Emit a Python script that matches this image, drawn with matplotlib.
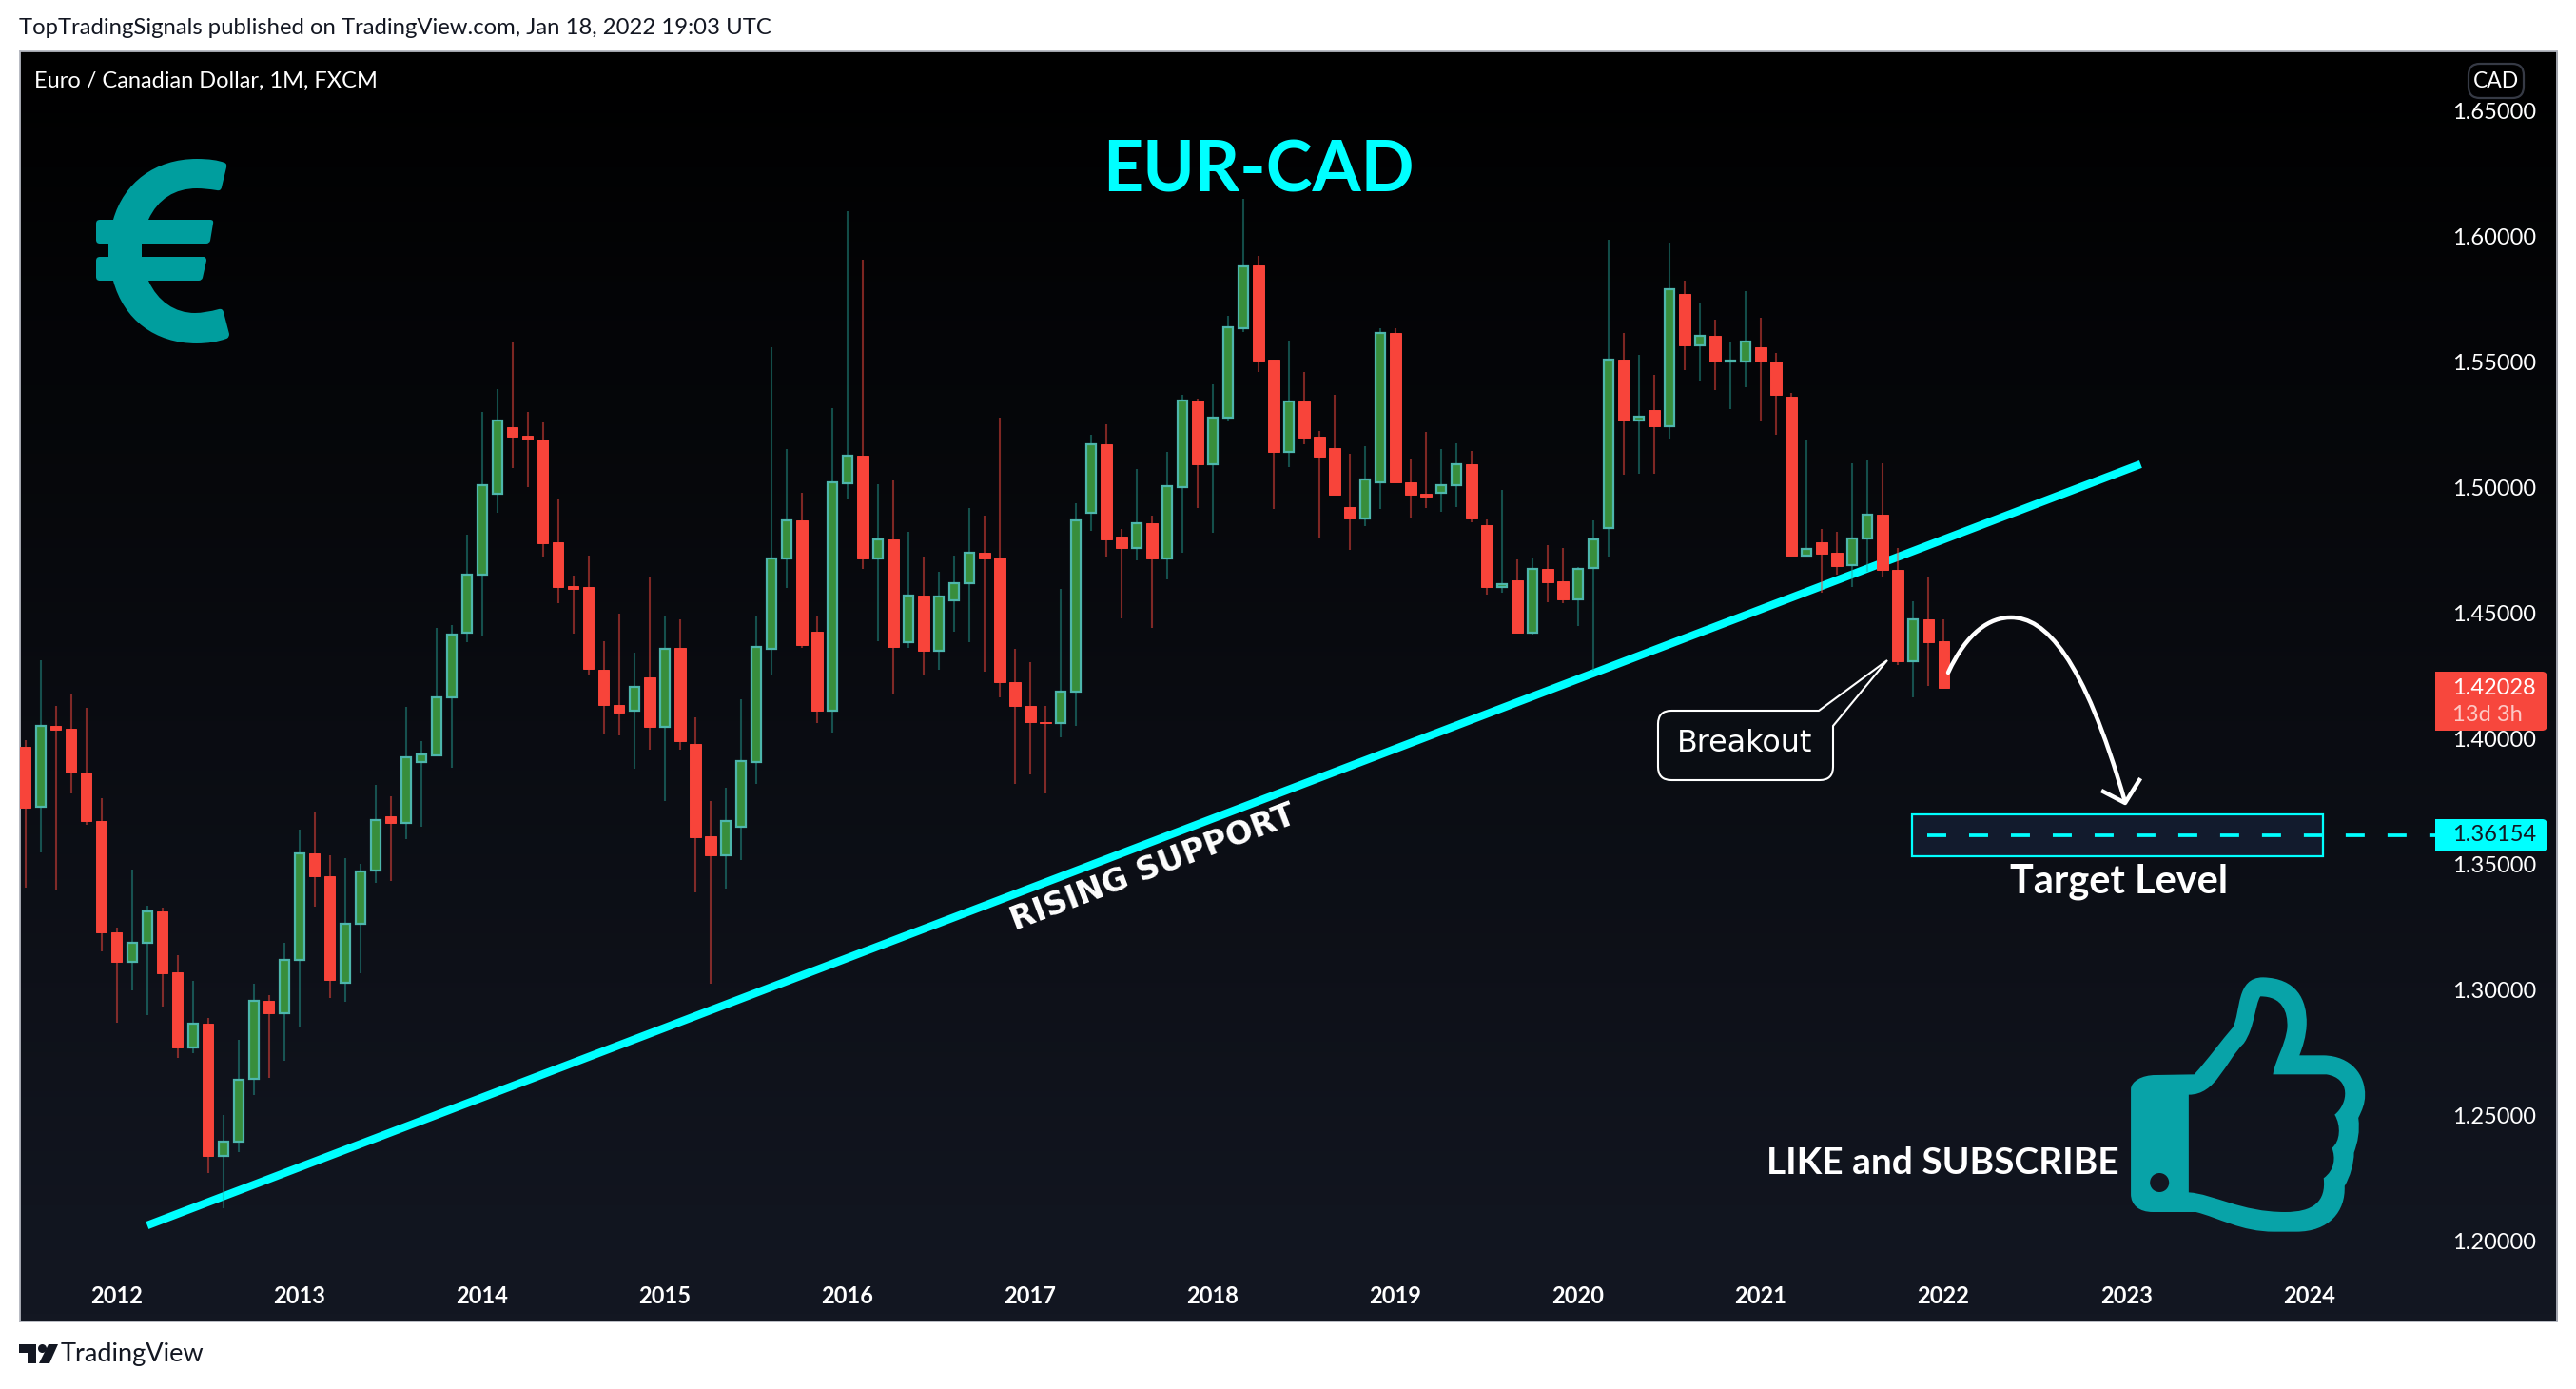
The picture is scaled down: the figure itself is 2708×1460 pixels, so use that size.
import numpy as np
import matplotlib
matplotlib.use("Agg")
import matplotlib.pyplot as plt
from matplotlib.path import Path
from matplotlib.patches import PathPatch, Ellipse, Circle, Rectangle

# ---------- data (EUR/CAD monthly candles, Jul 2011 .. Jan 2022) ----------
opens = [
1.3968,1.3728,1.4053,1.4038,1.3864,1.3671,1.3231,1.3113,1.3186,1.3311,
1.3069,1.2769,1.2864,1.2340,1.2394,1.2644,1.2956,1.2908,1.3118,1.3542,
1.3454,1.3030,1.3262,1.3476,1.3693,1.3666,1.3908,1.3935,1.4166,1.4424,
1.4652,1.4974,1.5239,1.5206,1.5193,1.4781,1.4607,1.4603,1.4273,1.4136,
1.4110,1.4244,1.4049,1.4362,1.3980,1.3612,1.3536,1.3650,1.3909,1.4357,
1.4716,1.4871,1.4428,1.4110,1.5018,1.5125,1.4716,1.4792,1.4383,1.4569,
1.4349,1.4550,1.4618,1.4739,1.4721,1.4224,1.4129,1.4066,1.4063,1.4186,
1.4900,1.5174,1.4804,1.4761,1.4859,1.4717,1.5003,1.5345,1.5091,1.5280,
1.5636,1.5886,1.5509,1.5143,1.5342,1.5201,1.5156,1.4924,1.4878,1.5019,
1.5614,1.5019,1.4975,1.4981,1.5011,1.5091,1.4849,1.4605,1.4629,1.4424,
1.4678,1.4626,1.4556,1.4681,1.4840,1.5509,1.5268,1.5307,1.5246,1.5770,
1.5568,1.5603,1.5501,1.5503,1.5558,1.5500,1.5361,1.4730,1.4781,1.4739,
1.4690,1.4796,1.4891,1.4671,1.4307,1.4477,1.4388]
highs = [
1.3994,1.4313,1.4131,1.4175,1.4122,1.3762,1.3250,1.3478,1.3334,1.3329,
1.3137,1.3035,1.2890,1.2501,1.2800,1.3023,1.2978,1.3186,1.3640,1.3708,
1.3537,1.3524,1.3503,1.3815,1.3769,1.4126,1.3992,1.4440,1.4451,1.4814,
1.5303,1.5392,1.5583,1.5303,1.5258,1.4951,1.4648,1.4731,1.4389,1.4497,
1.4344,1.4641,1.4489,1.4474,1.4087,1.3752,1.3804,1.4159,1.4492,1.5558,
1.5155,1.4981,1.4486,1.5318,1.6102,1.5909,1.5012,1.5027,1.4822,1.4724,
1.4663,1.4731,1.4920,1.4890,1.5277,1.4357,1.4306,1.4129,1.4596,1.4937,
1.5209,1.5253,1.4834,1.5072,1.4890,1.5143,1.5368,1.5353,1.5412,1.5683,
1.6148,1.5921,1.5509,1.5584,1.5462,1.5227,1.5368,1.5133,1.5166,1.5636,
1.5633,1.5117,1.5220,1.5152,1.5178,1.5145,1.4875,1.4992,1.4713,1.4716,
1.4769,1.4758,1.4682,1.4868,1.5988,1.5614,1.5530,1.5448,1.5974,1.5822,
1.5735,1.5668,1.5580,1.5781,1.5678,1.5535,1.5375,1.5190,1.4837,1.4823,
1.5097,1.5110,1.5097,1.4758,1.4547,1.4646,1.4477]
lows = [
1.3407,1.3549,1.3397,1.3784,1.3659,1.3155,1.2871,1.3000,1.2898,1.2932,
1.2731,1.2749,1.2272,1.2132,1.2354,1.2580,1.2651,1.2719,1.2849,1.3333,
1.2969,1.2954,1.3067,1.3427,1.3432,1.3602,1.3651,1.3935,1.3886,1.4385,
1.4410,1.4901,1.5079,1.5003,1.4727,1.4541,1.4420,1.4253,1.4016,1.4012,
1.3882,1.3958,1.3753,1.3955,1.3389,1.3025,1.3403,1.3517,1.3821,1.4251,
1.4599,1.4362,1.4061,1.4026,1.4954,1.4678,1.4389,1.4181,1.4362,1.4251,
1.4276,1.4428,1.4383,1.4266,1.4166,1.3821,1.3857,1.3784,1.4007,1.4053,
1.4826,1.4724,1.4481,1.4709,1.4442,1.4636,1.4739,1.4920,1.4819,1.5262,
1.5620,1.5461,1.4914,1.5082,1.5174,1.4798,1.4972,1.4753,1.4847,1.4913,
1.5017,1.4878,1.4920,1.4904,1.4923,1.4863,1.4575,1.4581,1.4420,1.4415,
1.4543,1.4540,1.4449,1.4270,1.4726,1.5052,1.5055,1.5055,1.5195,1.5468,
1.5426,1.5388,1.5313,1.5400,1.5266,1.5210,1.4727,1.4727,1.4582,1.4655,
1.4605,1.4663,1.4647,1.4295,1.4166,1.4212,1.4198]
closes = [
1.3727,1.4053,1.4036,1.3864,1.3671,1.3231,1.3113,1.3186,1.3311,1.3067,
1.2769,1.2864,1.2340,1.2394,1.2643,1.2956,1.2908,1.3118,1.3542,1.3454,
1.3038,1.3262,1.3470,1.3678,1.3666,1.3925,1.3936,1.4166,1.4416,1.4652,
1.5011,1.5268,1.5204,1.5191,1.4777,1.4603,1.4597,1.4280,1.4136,1.4103,
1.4208,1.4049,1.4357,1.3992,1.3608,1.3536,1.3672,1.3911,1.4367,1.4716,
1.4871,1.4374,1.4110,1.5020,1.5125,1.4716,1.4792,1.4364,1.4569,1.4349,
1.4565,1.4618,1.4739,1.4719,1.4224,1.4129,1.4065,1.4061,1.4188,1.4871,
1.5174,1.4795,1.4761,1.4859,1.4719,1.5005,1.5345,1.5091,1.5280,1.5637,
1.5882,1.5507,1.5143,1.5342,1.5200,1.5124,1.4972,1.4878,1.5034,1.5614,
1.5019,1.4972,1.4965,1.5011,1.5091,1.4878,1.4605,1.4617,1.4424,1.4678,
1.4624,1.4556,1.4678,1.4792,1.5509,1.5268,1.5284,1.5246,1.5788,1.5568,
1.5603,1.5500,1.5507,1.5580,1.5500,1.5371,1.4730,1.4755,1.4737,1.4688,
1.4796,1.4891,1.4671,1.4307,1.4477,1.4386,1.42028]

price_ticks = [1.20, 1.25, 1.30, 1.35, 1.40, 1.45, 1.50, 1.55, 1.60, 1.65]
year_tick_pos = [6, 18, 30, 42, 54, 66, 78, 90, 102, 114, 126, 138, 150]
year_labels = ["2012","2013","2014","2015","2016","2017","2018","2019","2020","2021","2022","2023","2024"]
support_x = [8.0, 138.95]
support_y = [1.20625, 1.5093]
target_price = 1.36154
last_price = 1.42028

W, H = 2708, 1460
FONT = "Lato"
CYAN = "#00FFFF"
TEAL = "#009E9E"

fig = plt.figure(figsize=(W/100, H/100), dpi=100, facecolor="white")
L, R, T, B = 20.5, 2688, 54, 1389
ax = fig.add_axes([L/W, 1-B/H, (R-L)/W, (B-T)/H])

# background gradient
grad = np.linspace(0, 1, 256).reshape(-1, 1)
cm = matplotlib.colors.LinearSegmentedColormap.from_list("bg", ["#000000", "#131722"])
ax.imshow(grad, extent=(0, 1, 0, 1), transform=ax.transAxes, origin="upper",
          cmap=cm, aspect="auto", zorder=0, interpolation="bilinear")
ax.set_xlim(-0.394, 166.3)
ax.set_ylim(1.168, 1.67367)

for s in ax.spines.values():
    s.set_color("#b2b5be")
    s.set_linewidth(1.3)

ax.yaxis.tick_right()
ax.set_yticks(price_ticks)
ax.set_yticklabels([f"{p:.5f}" for p in price_ticks])
ax.set_xticks(year_tick_pos)
ax.set_xticklabels(year_labels)
ax.tick_params(axis="y", length=0, pad=-79, labelcolor="white", labelsize=17)
ax.tick_params(axis="x", length=0, pad=-27, labelcolor="white", labelsize=17)
for t in ax.get_xticklabels() + ax.get_yticklabels():
    t.set_fontfamily(FONT)
for t in ax.get_xticklabels():
    t.set_fontweight("bold")

# support line
x = np.arange(len(opens))
ax.plot(support_x, support_y, color=CYAN, lw=6.0, solid_capstyle="butt", zorder=2)

# candles
o, h, l, c = map(np.array, (opens, highs, lows, closes))
up = c >= o
ax.vlines(x[up], l[up], h[up], colors="#26A69A", alpha=0.45, lw=1.5, zorder=3)
ax.vlines(x[~up], l[~up], h[~up], colors="#F7473D", alpha=0.5, lw=1.5, zorder=3)
ax.bar(x[up], (c-o)[up], bottom=o[up], width=0.615, facecolor="#388E3C",
       edgecolor="#4DB6AC", linewidth=1.6, zorder=4)
ax.bar(x[~up], (c-o)[~up], bottom=o[~up], width=0.70, facecolor="#F8443A",
       edgecolor="#F8443A", linewidth=0.7, zorder=4)

# ---------- overlay in pixel coordinates for drawing tools ----------
ov = fig.add_axes([0, 0, 1, 1], zorder=5)
ov.set_xlim(0, W)
ov.set_ylim(H, 0)
ov.axis("off")

def txt(xp, yp, s, size, color="white", weight="normal", ha="center", va="center", family=FONT, **kw):
    return ov.text(xp, yp, s, fontsize=size, color=color, fontweight=weight, ha=ha, va=va, family=family, **kw)

def build(cmds):
    verts, codes = [], []
    for cmd in cmds:
        if cmd[0] == "M":
            verts.append(cmd[1]); codes.append(Path.MOVETO)
        elif cmd[0] == "L":
            verts.append(cmd[1]); codes.append(Path.LINETO)
        elif cmd[0] == "Q":
            verts += [cmd[1], cmd[2]]; codes += [Path.CURVE3, Path.CURVE3]
        elif cmd[0] == "C":
            verts += [cmd[1], cmd[2], cmd[3]]; codes += [Path.CURVE4]*3
        elif cmd[0] == "Z":
            verts.append((0, 0)); codes.append(Path.CLOSEPOLY)
    return verts, codes

def tag(x0, y0, x1, y1, color, r=5):
    v, cd = build([("M",(x0,y0)),("L",(x1-r,y0)),("Q",(x1,y0),(x1,y0+r)),("L",(x1,y1-r)),
                   ("Q",(x1,y1),(x1-r,y1)),("L",(x0,y1)),("Z",)])
    ov.add_patch(PathPatch(Path(v, cd), facecolor=color, edgecolor="none", zorder=6))

# header / footer
txt(20, 30, "TopTradingSignals published on TradingView.com, Jan 18, 2022 19:03 UTC", 17.2,
    color="#131722", ha="left")
txt(36, 85, "Euro / Canadian Dollar, 1M, FXCM", 17.0, ha="left")
txt(1323, 180, "EUR-CAD", 53, color=CYAN, weight="bold")

# CAD box
v, cd = build([("M",(2607,67)),("L",(2641,67)),("Q",(2653,67),(2653,79)),("L",(2653,91)),("Q",(2653,103),(2641,103)),
               ("L",(2607,103)),("Q",(2595,103),(2595,91)),("L",(2595,79)),("Q",(2595,67),(2607,67)),("Z",)])
ov.add_patch(PathPatch(Path(v, cd), facecolor="none", edgecolor="#363a45", lw=1.6, zorder=6))
txt(2624, 85, "CAD", 16.5)

# euro icon
v, cd = build([
    ("M",(207,167)),("Q",(226,167),(236,171)),("Q",(239,172),(238,176)),("L",(233,197)),("Q",(232,201),(228,200)),
    ("Q",(216,198),(207,198)),("C",(184,198),(166,209),(156,231)),
    ("L",(221,231)),("Q",(225,231),(224,235)),("L",(221,253)),("Q",(220,256),(217,256)),
    ("L",(149,256)),("L",(149,270)),("L",(214,270)),("Q",(217,270),(217,274)),("L",(213,292)),("Q",(212,295),(209,295)),
    ("L",(156,295)),("C",(166,317),(184,329),(205,329)),("Q",(216,329),(230,325)),("Q",(234,324),(235,328)),
    ("L",(241,351)),("Q",(241,355),(238,356)),("Q",(224,361),(207,361)),("C",(163,361),(130,336),(119,295)),
    ("L",(105,295)),("Q",(101,295),(101,291)),("L",(101,274)),("Q",(101,270),(105,270)),("L",(114,270)),("L",(114,256)),
    ("L",(105,256)),("Q",(101,256),(101,252)),("L",(101,235)),("Q",(101,231),(105,231)),("L",(119,231)),
    ("C",(130,192),(163,167),(207,167)),("Z",)])
ov.add_patch(PathPatch(Path(v, cd), facecolor=TEAL, edgecolor="none", zorder=6))

# thumbs up icon, outlined in its own sketch coordinates then scaled to the canvas
def tp(p):
    return (1800 + p[0]/1.727, 1000 + p[1]/3)
thumb = [
    ("M",(805,390)),("L",(875,388)),("C",(900,340),(925,280),(945,240)),("C",(960,190),(950,82),(1000,82)),
    ("C",(1060,85),(1080,150),(1079,230)),("C",(1078,270),(1072,300),(1066,328)),("L",(1110,328)),
    ("C",(1160,330),(1186,390),(1185,455)),("C",(1185,480),(1180,500),(1173,525)),
    ("C",(1176,570),(1172,600),(1165,635)),("C",(1165,670),(1158,710),(1148,740)),
    ("C",(1150,820),(1120,884),(1060,884)),("L",(1020,884)),("C",(960,884),(920,840),(878,822)),
    ("L",(800,822)),("C",(775,822),(760,800),(760,765)),("L",(760,435)),("C",(760,410),(780,390),(805,390)),
    ("M",(865,452)),("L",(865,760)),("C",(910,765),(960,822),(1040,822)),("C",(1090,822),(1115,790),(1110,715)),
    ("C",(1130,690),(1132,650),(1125,620)),("C",(1140,600),(1142,550),(1130,515)),
    ("C",(1155,480),(1160,400),(1115,388)),("L",(1018,388)),("C",(1022,340),(1040,300),(1044,240)),
    ("C",(1045,190),(1035,142),(995,142)),("C",(985,170),(985,240),(965,290)),
    ("C",(930,350),(915,452),(865,452)),
]
tv, tc = [], []
for cmd in thumb:
    pts = [tp(p) for p in cmd[1:]]
    tv += pts
    tc += {"M":[Path.MOVETO],"L":[Path.LINETO],"C":[Path.CURVE4]*3}[cmd[0]]
ov.add_patch(PathPatch(Path(tv, tc), facecolor="#08A3A8", edgecolor="none", zorder=6))
ov.add_patch(Ellipse(tp((812,729)), 20, 20, facecolor="#131722", edgecolor="none", zorder=7))
txt(2042.5, 1222, "LIKE and SUBSCRIBE", 28, weight="bold")

# rising support label
txt(1212, 912, "RISING SUPPORT", 24.1, weight="bold", family="DejaVu Sans", rotation=20.9, rotation_mode="anchor")

# breakout callout
v, cd = build([("M",(1757,747)),("L",(1912,747)),("L",(1984,694)),("L",(1927,763)),("L",(1927,806)),
               ("Q",(1927,820),(1913,820)),("L",(1757,820)),("Q",(1743,820),(1743,806)),
               ("L",(1743,761)),("Q",(1743,747),(1757,747)),("Z",)])
ov.add_patch(PathPatch(Path(v, cd), facecolor="#0a0d13", edgecolor="white", lw=1.5, zorder=6, joinstyle="miter"))
txt(1834, 782, "Breakout", 22.9, family="DejaVu Sans", zorder=7)

# projected path arrow
v, cd = build([("M",(2048,707)),("C",(2068,664),(2092,649),(2114,649)),("C",(2150,649),(2190,690),(2234,843))])
ov.add_patch(PathPatch(Path(v, cd), facecolor="none", edgecolor="white", lw=3.2, zorder=6, capstyle="round"))
ov.plot([2211,2234,2249], [832,844,820], color="white", lw=3.2, solid_joinstyle="round", zorder=6)

# target level
ov.add_patch(Rectangle((2009.5,856), 432.5, 44, facecolor="#121B2D", edgecolor=CYAN, lw=1.6, zorder=6))
ytgt = H - ax.transData.transform((0, target_price))[1]
ov.plot([2026, 2560], [ytgt, ytgt], color=CYAN, lw=2.7, dashes=(5.33, 6.4), dash_capstyle="butt", zorder=7)
txt(2228, 927, "Target Level", 29.9, weight="bold")

# price tags
tag(2560, 706, 2677.5, 768, "#F7473D")
txt(2578, 724, f"{last_price:.5f}", 17, ha="left", zorder=8)
txt(2578, 752, "13d 3h", 17, color="#FDC9C5", ha="left", zorder=8)
tag(2560, 861, 2677.5, 895, CYAN)
txt(2578, 878, f"{target_price:.5f}", 17, color="#131722", ha="left", zorder=8)

# TradingView logo
ov.add_patch(plt.Polygon([(20,1413),(38,1413),(38,1433),(29,1433),(29,1422),(20,1422)], facecolor="#131722", edgecolor="none"))
ov.add_patch(Circle((44.5,1417.5), 4.5, facecolor="#131722", edgecolor="none"))
ov.add_patch(plt.Polygon([(51,1413),(61,1413),(52,1433),(41,1433)], facecolor="#131722", edgecolor="none"))
txt(64, 1424, "TradingView", 19.5, color="#131722", ha="left")

fig.savefig("out.png", dpi=100, facecolor="white")
